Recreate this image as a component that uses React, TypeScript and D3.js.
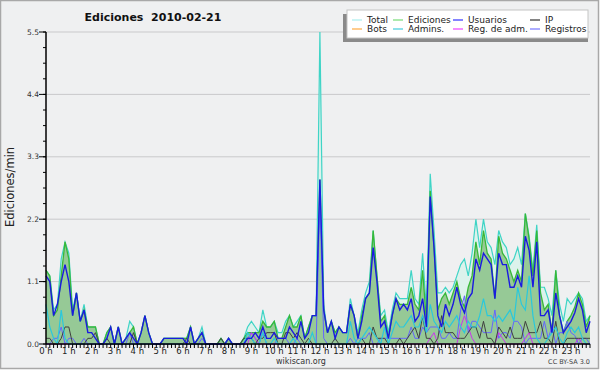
import React from "react";
import * as d3 from "d3";

// 10-minute bins, 144 per day (values in edits/min)
const total = [
  1.3,1.2,0.6,0.7,1.5,1.8, 1.6,0.6,0.9,0.4,0.7,0.3, 0.3,0.3,0,0,0.2,0.3, 0,0.3,0,0.1,0.4,0.3,
  0,0.2,0.5,0.2,0,0, 0,0.1,0.1,0.1,0.1,0.1, 0.1,0.1,0.3,0,0.1,0.3, 0,0,0,0,0.1,0,
  0.1,0,0,0,0.1,0.3, 0.4,0.3,0.2,0.6,0.3,0.3, 0.4,0.2,0.2,0.4,0.5,0.3, 0.4,0.5,0.1,0.3,0.5,0.5,
  5.5,0.7,0.2,0.4,0.2,0.3, 0.2,0.2,0.8,0.5,0.2,0.6, 0.9,1.1,2.0,1.2,0.5,0.6, 0.2,0.6,0.9,0.8,0.8,0.8,
  1.3,0.8,0.7,1.6,0.6,3.0, 2.0,0.9,0.9,1.0,0.9,1.0, 1.2,1.4,1.5,1.2,1.6,2.2, 1.7,2.2,1.8,1.7,1.4,2.0,
  1.8,1.7,1.4,1.5,1.7,1.4, 2.3,1.9,1.3,2.1,1.0,1.0, 0.8,0.5,1.3,0.7,0.4,0.8, 0.7,0.8,0.9,0.8,0.4,0.5,
];
const ediciones = [
  1.3,1.2,0.5,0.6,1.2,1.8, 1.5,0.5,0.9,0.4,0.6,0.3, 0.3,0.3,0,0,0.2,0.3, 0,0.3,0,0.1,0.2,0.3,
  0,0.2,0.5,0.2,0,0, 0,0.1,0.1,0.1,0.1,0.1, 0.1,0.1,0.3,0,0.1,0.2, 0,0,0,0,0.1,0,
  0.1,0,0,0,0.1,0.2, 0.2,0.2,0.2,0.4,0.3,0.3, 0.4,0.1,0.1,0.3,0.5,0.3, 0.3,0.5,0.1,0.3,0.5,0.5,
  2.9,0.6,0.2,0.4,0.2,0.3, 0.2,0.2,0.7,0.5,0.1,0.5, 0.8,0.9,2.0,1.2,0.4,0.5, 0.1,0.5,0.8,0.7,0.7,0.7,
  1.0,0.7,0.6,1.3,0.4,2.7, 1.7,0.6,0.8,0.9,0.7,0.9, 1.1,0.8,0.65,1.0,1.2,1.8, 1.4,2.0,1.6,1.5,0.8,1.9,
  1.6,1.5,1.3,1.1,1.3,1.1, 2.3,1.85,1.2,2.0,0.9,0.6, 0.7,0.2,1.3,0.5,0.2,0.4, 0.5,0.65,0.9,0.7,0.3,0.5,
];
const usuarios = [
  1.2,1.1,0.5,0.7,1.1,1.4, 1.1,0.5,0.9,0.4,0.6,0.2, 0.2,0.1,0,0,0.1,0.3, 0,0.3,0,0.1,0.2,0.1,
  0,0.2,0.5,0.2,0,0, 0,0.1,0.1,0.1,0.1,0.1, 0.1,0,0.3,0,0.1,0.2, 0,0,0,0,0,0,
  0.1,0,0,0,0,0.1, 0.1,0.2,0.1,0.3,0.1,0.1, 0.2,0.1,0.1,0.1,0.3,0.2, 0.1,0.4,0.1,0.2,0.5,0.5,
  2.9,0.6,0.2,0.4,0.1,0.3, 0.2,0.2,0.7,0.5,0.1,0.4, 0.8,0.9,1.7,1.1,0.3,0.4, 0.1,0.5,0.8,0.6,0.7,0.6,
  0.8,0.4,0.5,0.8,0.3,2.6, 1.7,0.5,0.3,0.7,0.5,0.7, 1.0,0.7,0.55,0.8,0.9,1.5, 1.3,1.6,1.5,1.4,0.8,1.6,
  1.4,1.4,1.0,1.0,1.2,1.0, 1.9,1.65,1.0,1.8,0.5,0.5, 0.6,0.2,0.9,0.5,0.2,0.3, 0.4,0.55,0.8,0.6,0.2,0.4,
];
const ip = [
  0.1,0.1,0,0,0.1,0.3, 0.3,0,0,0,0,0.1, 0.1,0.2,0,0,0.1,0, 0,0,0,0,0,0.2,
  0,0,0,0,0,0, 0,0,0,0,0,0, 0,0.1,0,0,0,0, 0,0,0,0,0.1,0,
  0,0,0,0,0.1,0.1, 0.1,0,0.1,0.1,0.2,0.2, 0.2,0,0,0.2,0.2,0.1, 0.2,0.1,0,0.1,0,0,
  0,0,0,0,0.1,0, 0,0,0,0,0,0.1, 0,0,0.3,0.1,0.1,0.1, 0,0,0,0.1,0,0.1,
  0.2,0.3,0.1,0.5,0.1,0.1, 0,0.1,0.5,0.2,0.2,0.2, 0.1,0.1,0.1,0.2,0.3,0.3, 0.1,0.4,0.1,0.1,0,0.3,
  0.2,0.1,0.3,0.1,0.1,0.1, 0.4,0.2,0.2,0.2,0.4,0.1, 0.1,0,0.4,0,0,0.1, 0.1,0.1,0.1,0.1,0.1,0.1,
];
const admins = [
  0.7,0.3,0.1,0,0.6,0.1, 0,0,0,0,0,0, 0,0,0,0,0,0, 0,0,0,0,0,0,
  0,0,0,0,0,0, 0,0,0,0,0,0, 0,0,0,0,0,0, 0,0,0,0,0,0,
  0,0,0,0,0,0.2, 0.1,0,0,0.2,0,0, 0.1,0,0,0,0,0.1, 0,0,0,0,0.2,0,
  0,0,0,0,0,0, 0,0,0.4,0.1,0,0.1, 0.2,0.3,0.2,0.1,0,0.3, 0,0.2,0.4,0.3,0.3,0.4,
  0.5,0.3,0.3,0.5,0.2,0.7, 0.4,0.3,0.2,0.4,0.3,0.4, 0.5,0.3,0.2,0.4,0.3,0.3, 0.5,0.8,0.5,0.5,0.4,0.5,
  0.4,0.5,0.6,0.4,1.0,0.7, 0.6,1.2,0.5,0.1,0,0, 0.1,0.2,0.3,0.1,0,0.2, 0.3,0.2,0.3,0.1,0,0,
];
const regAdm = [
  0,0,0,0,0,0, 0,0,0,0,0,0, 0,0,0,0,0,0, 0,0,0,0,0,0,
  0,0,0,0,0,0, 0,0,0,0,0,0, 0,0,0,0,0,0, 0,0,0,0,0,0,
  0,0,0,0,0,0, 0.2,0.1,0,0,0,0, 0,0,0,0,0,0, 0,0,0,0,0,0,
  0,0,0,0,0,0, 0,0,0,0,0,0, 0,0,0,0,0,0, 0,0,0,0,0,0,
  0,0,0,0,0,0.1, 0.2,0,0,0,0,0, 0,0.3,0.5,0.3,0.1,0, 0,0,0,0,0,0.2,
  0.1,0,0,0,0,0, 0.1,0.2,0,0,0,0, 0,0,0,0,0,0, 0,0,0.1,0,0,0,
];
const registros = [
  0,0,0.1,0.1,0.3,0, 0.1,0.1,0,0,0.1,0, 0,0,0,0,0,0, 0,0,0,0,0.2,0,
  0,0,0,0,0,0, 0,0,0,0,0,0, 0,0,0,0,0,0.1, 0,0,0,0,0,0,
  0,0,0,0,0,0.1, 0.2,0.1,0,0.2,0,0, 0,0.1,0.1,0.1,0,0, 0.1,0,0,0,0,0,
  2.6,0.1,0,0,0,0, 0,0,0.1,0,0.1,0.1, 0.1,0.2,0,0,0.1,0.1, 0.1,0.1,0.1,0.1,0.1,0.1,
  0.3,0.1,0.1,0.3,0.2,0.3, 0.3,0.3,0.1,0.1,0.2,0.1, 0.1,0.6,0.85,0.2,0.4,0.4, 0.3,0.2,0.2,0.2,0.6,0.1,
  0.2,0.2,0.1,0.4,0.4,0.3, 0,0.1,0.1,0.1,0.1,0.4, 0.1,0.3,0,0.2,0.2,0.4, 0.2,0.15,0,0.1,0.1,0,
];

const hourLabels = d3.range(24).map((h) => `${h} h`);
const yMajor = [0, 1.1, 2.2, 3.3, 4.4, 5.5];
const legendItems = [
  { name: "Total", color: "#aaeeee" },
  { name: "Ediciones", color: "#77dd77" },
  { name: "Usuarios", color: "#3333ff" },
  { name: "IP", color: "#333333" },
  { name: "Bots", color: "#ffaa44" },
  { name: "Admins.", color: "#44ccdd" },
  { name: "Reg. de adm.", color: "#ee44ff" },
  { name: "Registros", color: "#7777ff" },
];

const W = 600, H = 370;
const L = 46, R = 590, T = 32, B = 344;

export default function App() {
  const x = d3.scaleLinear().domain([0, 143]).range([L, R]);
  const y = d3.scaleLinear().domain([0, 5.5]).range([B, T]);
  const idx = d3.range(144);
  const line = (arr: number[]) =>
    d3.line<number>().x((i) => x(i)).y((i) => y(arr[i]))(idx) || "";
  const area = (arr: number[]) =>
    d3.area<number>().x((i) => x(i)).y0(B).y1((i) => y(arr[i]))(idx) || "";
  const minor = d3.range(0, 5.5 + 1e-6, 0.275);
  const fmt = d3.format(".1f");
  const font = "DejaVu Sans, sans-serif";
  const colX = [352, 393, 453, 530];

  return (
    <div style={{ position: "fixed", left: 0, top: 0 }}>
      <svg width={W} height={H} style={{ display: "block" }}>
        <rect x={0} y={0} width={W} height={H} fill="#ffffff" />
        <rect x={0.5} y={0.5} width={598} height={368} fill="#eff0f1" stroke="#a8a8a8" strokeWidth={1.5} />
        {yMajor.slice(1).map((v) => (
          <line key={v} x1={L} x2={R} y1={y(v)} y2={y(v)} stroke="#c9c9cb" strokeWidth={1} />
        ))}
        <path d={area(total)} fill="#dcf2ec" />
        <path d={area(ediciones)} fill="#96c996" />
        <path d={line(total)} fill="none" stroke="#3fd4c6" strokeWidth={1.2} />
        <path d={line(ediciones)} fill="none" stroke="#38b838" strokeWidth={1.3} />
        <path d={line(registros)} fill="none" stroke="#6464ff" strokeWidth={1} />
        <path d={line(regAdm)} fill="none" stroke="#cc33ee" strokeWidth={1} />
        <path d={line(ip)} fill="none" stroke="#404040" strokeWidth={1} />
        <path d={line(admins)} fill="none" stroke="#2ac8dc" strokeWidth={1.2} />
        <path d={line(usuarios)} fill="none" stroke="#1a1ae0" strokeWidth={1.4} />

        {/* axes */}
        <line x1={L} x2={L} y1={T} y2={B} stroke="#000" strokeWidth={1.5} />
        <line x1={L} x2={R} y1={B} y2={B} stroke="#000" strokeWidth={1.5} />
        {minor.map((v, k) => (
          <line key={"m" + k} x1={L - 3} x2={L} y1={y(v)} y2={y(v)} stroke="#000" strokeWidth={1} />
        ))}
        {yMajor.map((v) => (
          <g key={"t" + v}>
            <line x1={L - 7} x2={L} y1={y(v)} y2={y(v)} stroke="#000" strokeWidth={1} />
            <text x={L - 7} y={y(v) + 2.5} fontSize={7.5} fontFamily={font} fill="#333" textAnchor="end">
              {fmt(v)}
            </text>
          </g>
        ))}
        {idx.map((i) => (
          <line key={"x" + i} x1={x(i)} x2={x(i)} y1={B} y2={B + 4} stroke="#000" strokeWidth={1} />
        ))}
        {hourLabels.map((lab, h) => (
          <text key={lab} x={x(h * 6)} y={354} fontSize={8.5} fontFamily={font} fill="#222" textAnchor="middle">
            {lab}
          </text>
        ))}

        {/* titles */}
        <text x={153} y={21} fontSize={11} fontWeight="bold" fontFamily={font} fill="#111" textAnchor="middle" style={{ whiteSpace: "pre" }}>
          {"Ediciones  2010-02-21"}
        </text>
        <text transform="translate(14,187) rotate(-90)" fontSize={11.5} fontFamily={font} fill="#222" textAnchor="middle">
          Ediciones/min
        </text>
        <text x={301} y={364} fontSize={8} fontFamily={font} fill="#333" textAnchor="middle">wikiscan.org</text>
        <text x={590} y={364} fontSize={6.5} fontFamily={font} fill="#444" textAnchor="end">CC BY-SA 3.0</text>

        {/* legend */}
        <rect x={343} y={14} width={245} height={28} fill="#8a8a8a" />
        <rect x={347} y={10} width={241} height={28} fill="#fff" stroke="#c4c4c4" strokeWidth={1} />
        {legendItems.map((it, k) => {
          const col = k % 4, row = Math.floor(k / 4);
          const ly = row === 0 ? 20 : 29;
          return (
            <g key={it.name}>
              <line x1={colX[col]} x2={colX[col] + 10} y1={ly} y2={ly} stroke={it.color} strokeWidth={1.2} />
              <text x={colX[col] + 15} y={ly + 3} fontSize={9} fontFamily={font} fill="#222">{it.name}</text>
            </g>
          );
        })}
      </svg>
    </div>
  );
}
